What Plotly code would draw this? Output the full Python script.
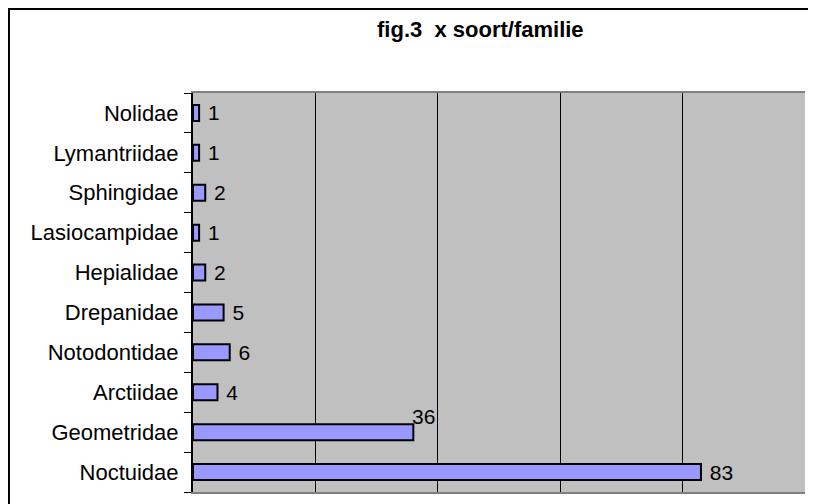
import plotly.graph_objects as go

families = ["Noctuidae", "Geometridae", "Arctiidae", "Notodontidae", "Drepanidae",
            "Hepialidae", "Lasiocampidae", "Sphingidae", "Lymantriidae", "Nolidae"]
counts = [83, 36, 4, 6, 5, 2, 1, 2, 1, 1]

FONT = "Liberation Sans, Arial, sans-serif"

# the 36 label sits above its bar in the original, so handle it separately
labels = ["" if c == 36 else f" {c}" for c in counts]

fig = go.Figure(
    go.Bar(
        x=counts,
        y=families,
        orientation="h",
        marker=dict(color="#9999FF", line=dict(color="#000000", width=2)),
        text=labels,
        textposition="outside",
        constraintext="none",
        textfont=dict(family=FONT, size=21, color="#000000"),
        cliponaxis=False,
    )
)

fig.add_annotation(
    x=36, y="Geometridae", text="36", showarrow=False,
    xanchor="center", yanchor="bottom", xshift=10, yshift=2,
    font=dict(family=FONT, size=21, color="#000000"),
)

fig.add_annotation(
    x=0.469, y=1.158, xref="paper", yref="paper",
    xanchor="center", yanchor="middle",
    text="<b>fig.3  x soort/familie</b>", showarrow=False,
    font=dict(family=FONT, size=22, color="#000000"),
)

# outer chart frame
fig.add_shape(
    type="rect", xref="paper", yref="paper",
    x0=-0.3007, x1=1.1, y0=-0.2, y1=1.2105,
    line=dict(color="#000000", width=2),
)

# page body adds ~8px offset, so the figure is sized to the remaining area
fig.update_layout(
    width=808,
    height=496,
    margin=dict(l=185, r=11, t=85, b=12, autoexpand=False),
    paper_bgcolor="#FFFFFF",
    plot_bgcolor="#C0C0C0",
    bargap=0.6,
    showlegend=False,
    font=dict(family=FONT, size=21, color="#000000"),
)
fig.update_xaxes(
    range=[0, 100],
    dtick=20,
    showticklabels=False,
    showgrid=True,
    gridcolor="#000000",
    gridwidth=1,
    zeroline=False,
    showline=True,
    linecolor="#808080",
    linewidth=2,
    mirror=True,
    automargin=False,
)
fig.update_yaxes(
    tickson="boundaries",
    ticks="outside",
    ticklen=7,
    tickcolor="#000000",
    ticklabelstandoff=8,
    showline=True,
    linecolor="#000000",
    linewidth=2,
    showgrid=False,
    automargin=False,
    tickfont=dict(family=FONT, size=22, color="#000000"),
)

fig.write_html("out.html")
